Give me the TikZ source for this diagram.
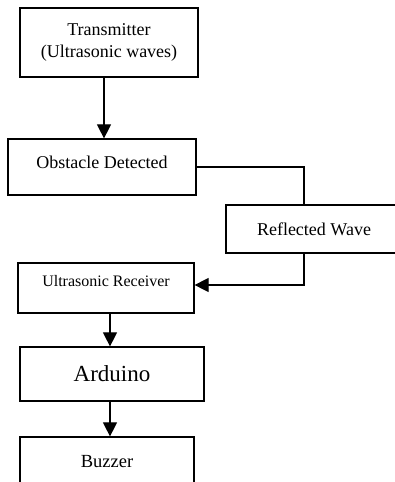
\documentclass[tikz,border=0pt]{standalone}
\usepackage{fontspec}
\setmainfont{Liberation Serif}
\usetikzlibrary{arrows.meta}

\tikzset{
	block/.style={draw, line width=1.2pt, align=center, inner sep=0pt, font=\fontsize{18}{22}\selectfont},
	flow/.style={line width=1.1pt, -{Triangle[width=14pt,length=14pt]}},
	link/.style={line width=1.1pt}
}

\begin{document}
\begin{tikzpicture}[x=1pt, y=1pt]
	\useasboundingbox (0,0) rectangle (395,-482);
	\node [block, minimum width=178pt, minimum height=69pt, text depth=4pt] (trans) at (109,-42.5) {Transmitter \\ (Ultrasonic waves)};
	\node [block, minimum width=188pt, minimum height=56pt, text depth=10pt] (obst) at (102,-167) {Obstacle Detected};
	\node [block, minimum width=176pt, minimum height=48pt] (refl) at (314,-229) {Reflected Wave};
	\node [block, minimum width=176pt, minimum height=50pt, text depth=14pt, font=\fontsize{16}{19}\selectfont] (recv) at (106,-288) {Ultrasonic Receiver};
	\node [block, minimum width=184pt, minimum height=54pt, font=\fontsize{23}{27}\selectfont] (ardu) at (112,-374) {Arduino};
	\node [block, minimum width=174pt, minimum height=56pt, text depth=8pt, font=\fontsize{18.5}{22}\selectfont] (buzz) at (107,-465) {Buzzer};
	\draw [flow] (trans.south -| 104,0) -- (obst.north -| 104,0);
	\draw [link] (obst.east) -| ([xshift=-10pt]refl.north);
	\draw [flow] ([xshift=-10pt]refl.south) |- ([yshift=3pt]recv.east);
	\draw [flow] (recv.south -| 110,0) -- (ardu.north -| 110,0);
	\draw [flow] (ardu.south -| 110,0) -- (buzz.north -| 110,0);
\end{tikzpicture}
\end{document}
